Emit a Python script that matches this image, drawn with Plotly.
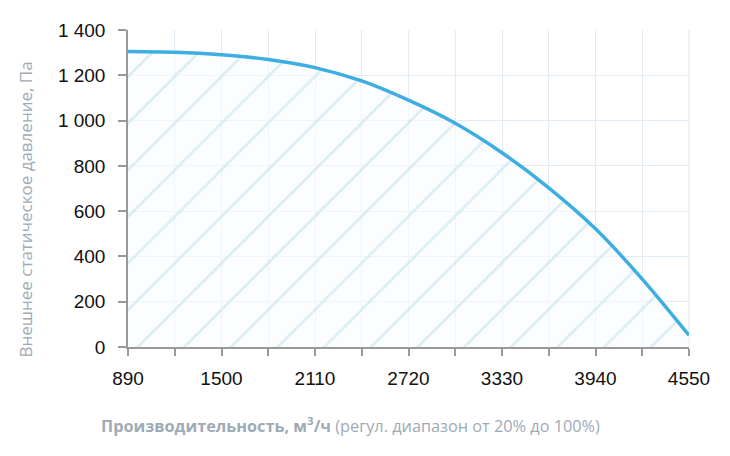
import plotly.graph_objects as go

# air flow, m3/h
flow = [890, 1195, 1500, 1805, 2110, 2415, 2720, 3025, 3330, 3635, 3940, 4245, 4550]
# external static pressure, Pa
pressure = [1305, 1302, 1291, 1270, 1234, 1175, 1090, 988, 858, 703, 522, 300, 52]

x_ticks = [890, 1195, 1500, 1805, 2110, 2415, 2720, 3025, 3330, 3635, 3940, 4245, 4550]
x_labels = ["890", "", "1500", "", "2110", "", "2720", "", "3330", "", "3940", "", "4550"]
y_ticks = [0, 200, 400, 600, 800, 1000, 1200, 1400]
y_labels = ["0", "200", "400", "600", "800", "1 000", "1 200", "1 400"]

title_color = "#9eaab6"
grid_color = "#e0ebf4"


def create_plot():
    fig = go.Figure()
    fig.add_trace(go.Scatter(
        x=flow, y=pressure, mode="lines",
        line=dict(color="#3eaee2", width=3.5, shape="spline", smoothing=0.8),
        fill="tozeroy",
        fillcolor="rgba(246,250,252,0.5)",
        fillpattern=dict(shape="/", fgcolor="#bcdce8", bgcolor="rgba(248,251,253,0.6)",
                         size=33, solidity=0.08),
        hoverinfo="x+y",
    ))
    tick_font = dict(family="Liberation Sans", size=19, color="#111111")
    fig.update_xaxes(
        range=[890, 4550], tickvals=x_ticks, ticktext=x_labels,
        ticks="outside", ticklen=7, tickcolor="#999999", tickwidth=1.5,
        ticklabelstandoff=6,
        showline=True, linecolor="#999999", linewidth=1.5,
        showgrid=True, gridcolor=grid_color, gridwidth=1.2,
        tickfont=tick_font, zeroline=False,
    )
    fig.update_yaxes(
        range=[0, 1400], tickvals=y_ticks, ticktext=y_labels,
        ticks="outside", ticklen=8, tickcolor="#999999", tickwidth=1.5,
        ticklabelstandoff=9,
        showline=True, linecolor="#999999", linewidth=1.5,
        showgrid=True, gridcolor=grid_color, gridwidth=1.2,
        tickfont=tick_font, zeroline=False,
    )
    # right border grid line
    fig.add_shape(type="line", xref="paper", yref="paper", x0=1, x1=1, y0=0, y1=1,
                  line=dict(color=grid_color, width=1.2), layer="below")
    fig.add_annotation(
        text="Внешнее статическое давление, Па",
        xref="paper", yref="paper", x=-0.1826, y=0.4326, textangle=-90,
        showarrow=False, xanchor="center", yanchor="middle",
        font=dict(family="Open Sans", size=17, color=title_color),
    )
    fig.add_annotation(
        text="<b>Производительность, м<sup>3</sup>/ч</b> (регул. диапазон от 20% до 100%)",
        xref="paper", yref="paper", x=0.396, y=-0.2476,
        showarrow=False, xanchor="center", yanchor="middle",
        font=dict(family="Open Sans", size=16.3, color=title_color),
    )
    fig.update_layout(
        width=730, height=456,
        margin=dict(l=120, r=49, t=20, b=117),
        plot_bgcolor="white", paper_bgcolor="white",
        showlegend=False,
    )
    fig.write_html("out.html")


def main():
    create_plot()


if __name__ == '__main__':
    main()
